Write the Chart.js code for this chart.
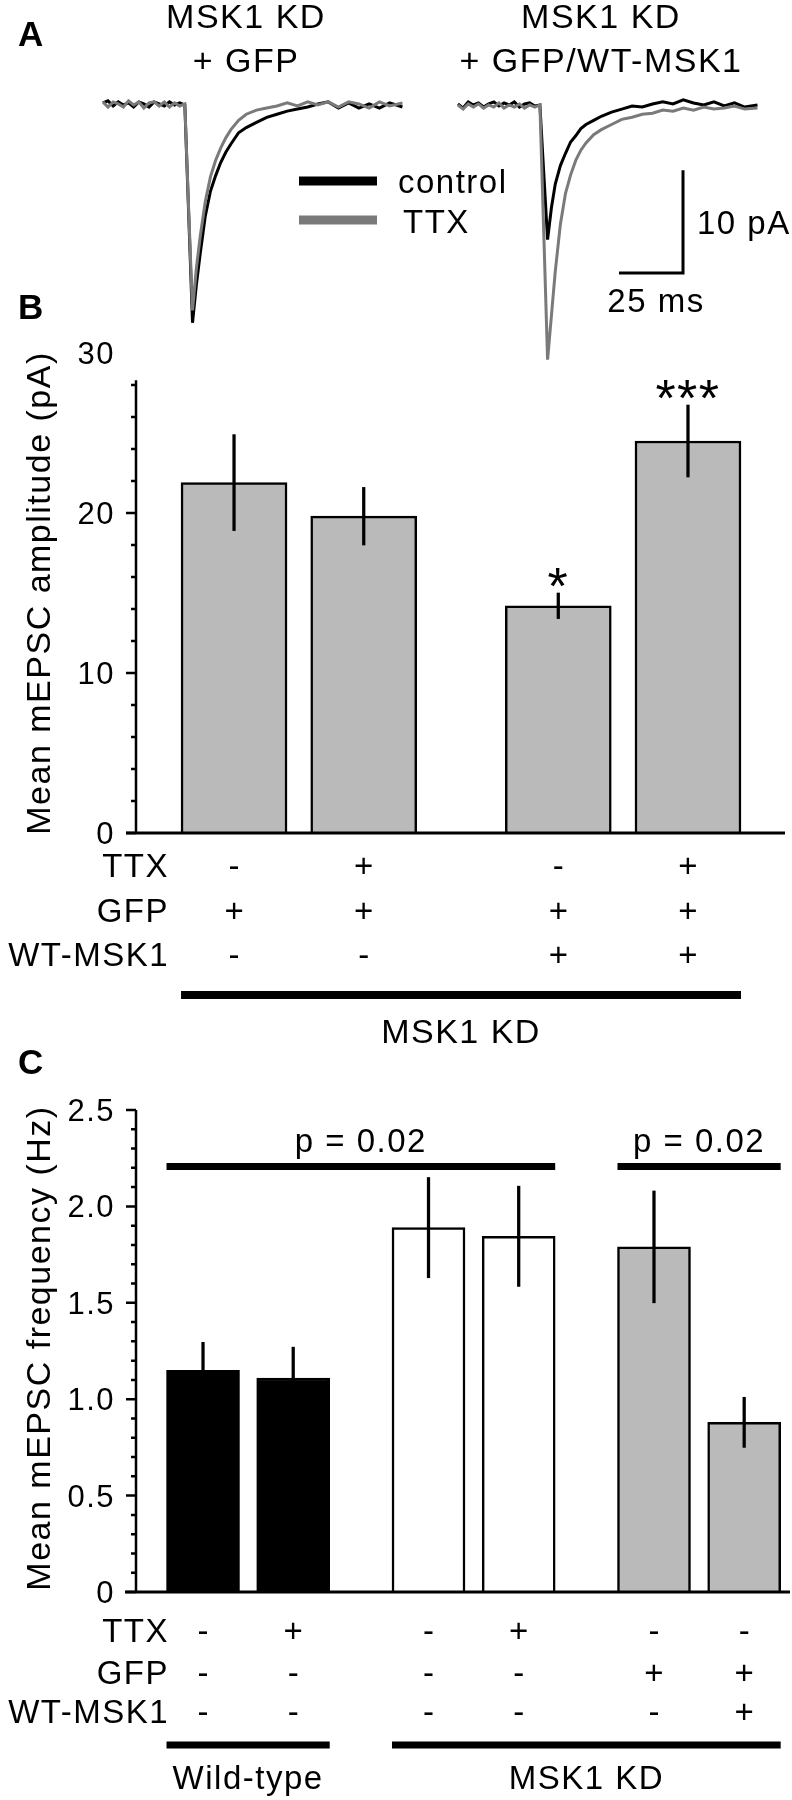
<!DOCTYPE html>
<html>
<head>
<meta charset="utf-8">
<script src="https://cdn.jsdelivr.net/npm/chart.js@4.4.1/dist/chart.umd.min.js"></script>
<style>
  body { margin: 0; background: #fff; }
  #wrap { position: relative; width: 792px; height: 1800px; }
  #wrap canvas { position: absolute; left: 0; top: 0; }
</style>
</head>
<body>
<div id="wrap">
  <canvas id="traceChart" width="792" height="1800"></canvas>
  <canvas id="ampChart" width="792" height="1800"></canvas>
  <canvas id="freqChart" width="792" height="1800"></canvas>
</div>
<script>
// ---- panel A: example mEPSCs (ms from sweep start, pA) ----
const traceTime = [0, 2, 4, 6, 8, 10, 12, 14, 16, 18, 20, 22, 24, 26, 28, 30, 32,
  33.5, 35, 36.5, 38, 40, 42, 44, 46, 48, 50,
  53, 56, 60, 64, 68, 72, 76, 80, 84, 88, 92, 96, 100, 104, 108, 112, 117];
const kdGfpControl = [0.2, 0.4, -0.1, 0.3, 0.0, 0.2, -0.2, 0.3, 0.1, -0.2, 0.3, 0.1, -0.1, 0.3, 0.0, 0.2, 0.0,
  -10.6, -21.2, -17.5, -14.5, -10.8, -8.4, -6.9, -5.6, -4.6, -3.8,
  -2.7, -2.2, -1.7, -1.2, -0.9, -0.6, -0.4, -0.2, 0.1, 0.3, -0.3, 0.2, -0.3, 0.1, -0.3, 0.2, -0.2];
const kdGfpTtx = [0.3, -0.2, 0.3, 0.1, -0.2, 0.4, 0.0, 0.3, -0.3, 0.2, 0.3, -0.1, 0.3, -0.2, 0.2, -0.1, 0.1,
  -10.2, -20.0, -15.9, -12.8, -9.4, -7.0, -5.4, -4.2, -3.2, -2.4,
  -1.5, -0.9, -0.5, -0.3, -0.1, 0.2, -0.1, 0.3, 0.0, 0.3, -0.2, 0.3, 0.1, -0.3, 0.3, -0.1, 0.2];
const rescueControl = [0.1, -0.3, 0.3, 0.0, 0.2, -0.2, 0.1, 0.3, -0.1, 0.2, 0.0, 0.3, -0.2, 0.1, 0.2, -0.1, 0.0,
  -6.6, -13.1, -10.0, -7.7, -5.9, -4.7, -3.6, -3.0, -2.3, -1.9,
  -1.5, -1.1, -0.7, -0.4, -0.1, -0.2, 0.1, 0.3, 0.1, 0.5, 0.2, 0.0, 0.3, -0.1, 0.2, -0.2, 0.0];
const rescueTtx = [0.0, -0.4, 0.1, -0.2, 0.1, -0.3, 0.0, -0.2, 0.2, -0.3, 0.0, -0.2, 0.1, -0.3, 0.0, -0.2, 0.0,
  -12.4, -24.8, -20.5, -16.2, -11.6, -8.6, -6.8, -5.4, -4.4, -3.7,
  -2.9, -2.4, -1.9, -1.4, -1.2, -0.9, -0.8, -0.5, -0.6, -0.3, -0.5, -0.2, -0.4, -0.3, -0.1, -0.4, -0.3];
const scaleBarMs = 25;
const scaleBarPa = 10;

// ---- panel B: mEPSC amplitude ----
const ampMean = [21.9, 19.8, 14.2, 24.5];
const ampSem = [3.0, 1.8, 0.8, 2.25];
const ampGroup = [0, 0, 1, 1];
const ampStars = ['', '', '*', '***'];
const ampTTX = ['-', '+', '-', '+'];
const ampGFP = ['+', '+', '+', '+'];
const ampWT = ['-', '-', '+', '+'];
const ampTicks = [0, 10, 20, 30];

// ---- panel C: mEPSC frequency ----
const freqMean = [1.15, 1.11, 1.89, 1.845, 1.79, 0.88];
const freqSem = [0.145, 0.16, 0.26, 0.26, 0.29, 0.13];
const freqGroup = [0, 0, 1, 1, 2, 2];
const freqTTX = ['-', '+', '-', '+', '-', '-'];
const freqGFP = ['-', '-', '-', '-', '+', '+'];
const freqWT = ['-', '-', '-', '-', '-', '+'];
const freqTicks = [0, 0.5, 1, 1.5, 2, 2.5];
const freqTickLabels = ['0', '0.5', '1.0', '1.5', '2.0', '2.5'];
const freqSig = [{ from: 0, to: 3, label: 'p = 0.02' }, { from: 4, to: 5, label: 'p = 0.02' }];
const freqGenotypes = [{ from: 0, to: 1, label: 'Wild-type' }, { from: 2, to: 5, label: 'MSK1 KD' }];

const FONT = '"Liberation Sans", Arial, Helvetica, sans-serif';

function txt(ctx, s, x, y, size, align, opts = {}) {
  ctx.save();
  ctx.font = (opts.bold ? 'bold ' : '') + size + 'px ' + FONT;
  ctx.fillStyle = '#000';
  ctx.textAlign = align || 'left';
  ctx.textBaseline = 'alphabetic';
  if ('letterSpacing' in ctx) ctx.letterSpacing = (opts.ls ?? 1.5) + 'px';
  if (opts.rotate) {
    ctx.translate(x, y);
    ctx.rotate(opts.rotate);
    ctx.fillText(s, 0, 0);
  } else {
    ctx.fillText(s, x, y);
  }
  ctx.restore();
}

function line(ctx, x1, y1, x2, y2, w, color) {
  ctx.save();
  ctx.strokeStyle = color || '#000';
  ctx.lineWidth = w;
  ctx.lineCap = 'butt';
  ctx.beginPath();
  ctx.moveTo(x1, y1);
  ctx.lineTo(x2, y2);
  ctx.stroke();
  ctx.restore();
}

function drawYAxis(ctx, y, o) {
  ctx.save();
  ctx.strokeStyle = '#000';
  ctx.lineWidth = 2.5;
  ctx.beginPath();
  ctx.moveTo(o.axisX, y.getPixelForValue(0) + 1);
  ctx.lineTo(o.axisX, y.getPixelForValue(o.top));
  const n = Math.round(o.top / o.minor);
  for (let k = 0; k <= n; k++) {
    const v = k * o.minor;
    const py = y.getPixelForValue(v);
    const major = Math.abs(v / o.major - Math.round(v / o.major)) < 1e-6;
    ctx.moveTo(o.axisX, py);
    ctx.lineTo(o.axisX - (major ? 10 : 5), py);
  }
  ctx.stroke();
  ctx.restore();
  o.ticks.forEach((v, i) => txt(ctx, o.labels[i], 115, y.getPixelForValue(v) + 11, 31, 'right'));
}

function drawRows(ctx, bars, rows, baselines) {
  rows.forEach((r, k) => {
    txt(ctx, r.name, 169, baselines[k], 33, 'right');
    r.values.forEach((s, i) => txt(ctx, s, bars[i].x, baselines[k], 33, 'center', { ls: 0 }));
  });
}

function slot(i, groups) {
  return i + 1 + 0.5 * groups[i];
}

const baseOptions = (pad, xr, yr) => ({
  responsive: false,
  animation: false,
  devicePixelRatio: 1,
  events: [],
  layout: { padding: pad },
  plugins: { legend: { display: false }, tooltip: { enabled: false } },
  scales: {
    x: { type: 'linear', display: false, offset: false, min: xr[0], max: xr[1] },
    y: { type: 'linear', display: false, min: yr[0], max: yr[1] }
  }
});

// ---------- panel A ----------
const leftSweep = 40.2, rightSweep = 178.9;
const toPts = (arr, off) => traceTime.map((t, i) => ({ x: t + off, y: arr[i] }));
const sbX = 266.8, sbY = -16.36;

const traceDecor = {
  id: 'traceDecor',
  afterDraw(chart) {
    const ctx = chart.ctx;
    txt(ctx, 'A', 18, 46, 35, 'left', { bold: true, ls: 0 });
    txt(ctx, 'MSK1 KD', 246, 28, 34, 'center');
    txt(ctx, '+ GFP', 246, 72, 34, 'center');
    txt(ctx, 'MSK1 KD', 601, 28, 34, 'center');
    txt(ctx, '+ GFP/WT-MSK1', 601, 72, 34, 'center');
    line(ctx, 299, 181, 377, 181, 9, '#000');
    line(ctx, 299, 220, 377, 220, 9, '#7a7a7a');
    txt(ctx, 'control', 398, 193, 33, 'left');
    txt(ctx, 'TTX', 403, 233, 33, 'left');
    txt(ctx, '10 pA', 697, 234, 33, 'left');
    txt(ctx, '25 ms', 656, 312, 33, 'center');
  }
};

new Chart(document.getElementById('traceChart'), {
  type: 'line',
  data: {
    datasets: [
      { data: [{ x: sbX, y: sbY + scaleBarPa }, { x: sbX, y: sbY }, { x: sbX - scaleBarMs, y: sbY }],
        borderColor: '#000', borderWidth: 3, order: 0 },
      { data: toPts(kdGfpTtx, leftSweep), borderColor: '#7a7a7a', borderWidth: 3, order: 1 },
      { data: toPts(rescueTtx, rightSweep), borderColor: '#7a7a7a', borderWidth: 3, order: 1 },
      { data: toPts(kdGfpControl, leftSweep), borderColor: '#000', borderWidth: 3, order: 2 },
      { data: toPts(rescueControl, rightSweep), borderColor: '#000', borderWidth: 3, order: 2 }
    ]
  },
  options: Object.assign(baseOptions({ left: 0, right: 0, top: 0, bottom: 1400 }, [0, 309.375], [-28.72, 10.22]), {
    elements: { point: { radius: 0 }, line: { tension: 0, borderJoinStyle: 'miter' } }
  }),
  plugins: [traceDecor]
});

// ---------- panel B ----------
const ampDecor = {
  id: 'ampDecor',
  afterDraw(chart) {
    const { ctx, scales: { y } } = chart;
    const bars = chart.getDatasetMeta(1).data;
    const zero = y.getPixelForValue(0);
    txt(ctx, 'B', 18, 319, 35, 'left', { bold: true, ls: 0 });
    drawYAxis(ctx, y, { axisX: 136, top: 28.3, minor: 2, major: 10, ticks: ampTicks, labels: ampTicks.map(String) });
    line(ctx, 126, zero, 785, zero, 3);
    txt(ctx, 'Mean mEPSC amplitude (pA)', 50, 593, 34, 'center', { rotate: -Math.PI / 2 });
    ampStars.forEach((s, i) => {
      if (s) txt(ctx, s, bars[i].x, y.getPixelForValue(ampMean[i] + ampSem[i]) + 11, 52, 'center', { ls: 1.5 });
    });
    drawRows(ctx, bars, [
      { name: 'TTX', values: ampTTX },
      { name: 'GFP', values: ampGFP },
      { name: 'WT-MSK1', values: ampWT }
    ], [877, 922, 966]);
    const l = bars[0].x - bars[0].width / 2, r = bars[3].x + bars[3].width / 2;
    line(ctx, l, 995, r, 995, 8);
    txt(ctx, 'MSK1 KD', (l + r) / 2, 1043, 34, 'center');
  }
};

new Chart(document.getElementById('ampChart'), {
  type: 'bar',
  data: {
    datasets: [
      { data: ampMean.map((m, i) => ({ x: slot(i, ampGroup), y: [m - ampSem[i], m + ampSem[i]] })),
        backgroundColor: '#000', borderWidth: 0, barThickness: 2.6, grouped: false, order: 0 },
      { data: ampMean.map((m, i) => ({ x: slot(i, ampGroup), y: m })),
        backgroundColor: '#bababa', borderColor: '#000', borderWidth: 2.5, barThickness: 106, grouped: false, order: 1 }
    ]
  },
  options: baseOptions({ left: 126, right: 7, top: 353, bottom: 967 }, [0.167, 5.248], [0, 30]),
  plugins: [ampDecor]
});

// ---------- panel C ----------
const freqDecor = {
  id: 'freqDecor',
  afterDraw(chart) {
    const { ctx, scales: { y } } = chart;
    const bars = chart.getDatasetMeta(1).data;
    const zero = y.getPixelForValue(0);
    txt(ctx, 'C', 18, 1074, 35, 'left', { bold: true, ls: 0 });
    drawYAxis(ctx, y, { axisX: 136, top: 2.5, minor: 0.1, major: 0.5, ticks: freqTicks, labels: freqTickLabels });
    line(ctx, 125, zero, 790, zero, 3);
    txt(ctx, 'Mean mEPSC frequency (Hz)', 50, 1348, 34, 'center', { rotate: -Math.PI / 2 });
    const sigY = y.getPixelForValue(2.207);
    freqSig.forEach(s => {
      const l = bars[s.from].x - bars[s.from].width / 2, r = bars[s.to].x + bars[s.to].width / 2;
      line(ctx, l, sigY, r, sigY, 7);
      txt(ctx, s.label, (l + r) / 2, sigY - 14, 33, 'center');
    });
    drawRows(ctx, bars, [
      { name: 'TTX', values: freqTTX },
      { name: 'GFP', values: freqGFP },
      { name: 'WT-MSK1', values: freqWT }
    ], [1642, 1684, 1723]);
    freqGenotypes.forEach(g => {
      const l = bars[g.from].x - bars[g.from].width / 2, r = bars[g.to].x + bars[g.to].width / 2;
      line(ctx, l, 1745, r, 1745, 7);
      txt(ctx, g.label, (l + r) / 2, 1789, 33, 'center');
    });
  }
};

new Chart(document.getElementById('freqChart'), {
  type: 'bar',
  data: {
    datasets: [
      { data: freqMean.map((m, i) => ({ x: slot(i, freqGroup), y: [m - freqSem[i], m + freqSem[i]] })),
        backgroundColor: '#000', borderWidth: 0, barThickness: 2.6, grouped: false, order: 0 },
      { data: freqMean.map((m, i) => ({ x: slot(i, freqGroup), y: m })),
        backgroundColor: ['#000', '#000', '#fff', '#fff', '#bababa', '#bababa'],
        borderColor: '#000', borderWidth: 2.5, barThickness: 73, grouped: false, order: 1 }
    ]
  },
  options: baseOptions({ left: 125, right: 2, top: 1110, bottom: 208 }, [0.135, 7.508], [0, 2.5]),
  plugins: [freqDecor]
});
</script>
</body>
</html>
